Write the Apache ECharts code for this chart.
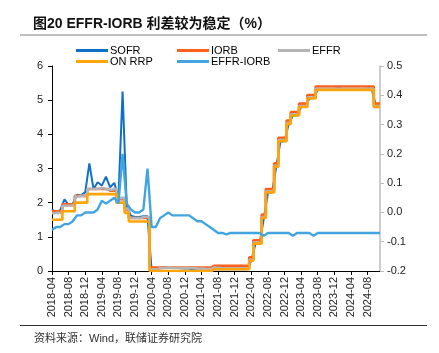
<!DOCTYPE html>
<html>
<head>
<meta charset="utf-8">
<script src="https://cdn.jsdelivr.net/npm/echarts@6/dist/echarts.min.js"></script>
<style>
html,body{margin:0;padding:0;background:#fff;}
#chart{width:439px;height:353px;}
</style>
</head>
<body>
<div id="chart"></div>
<script>
// Monthly categories (value on/around the 1st of each month)
var months = [
'2018-04','2018-05','2018-06','2018-07','2018-08','2018-09','2018-10','2018-11','2018-12',
'2019-01','2019-02','2019-03','2019-04','2019-05','2019-06','2019-07','2019-08','2019-09','2019-10','2019-11','2019-12',
'2020-01','2020-02','2020-03','2020-04','2020-05','2020-06','2020-07','2020-08','2020-09','2020-10','2020-11','2020-12',
'2021-01','2021-02','2021-03','2021-04','2021-05','2021-06','2021-07','2021-08','2021-09','2021-10','2021-11','2021-12',
'2022-01','2022-02','2022-03','2022-04','2022-05','2022-06','2022-07','2022-08','2022-09','2022-10','2022-11','2022-12',
'2023-01','2023-02','2023-03','2023-04','2023-05','2023-06','2023-07','2023-08','2023-09','2023-10','2023-11','2023-12',
'2024-01','2024-02','2024-03','2024-04','2024-05','2024-06','2024-07','2024-08','2024-09','2024-10','2024-11'
];

var sofr = [
1.80,1.72,1.78,2.10,1.93,1.96,2.23,2.22,2.30,
3.15,2.40,2.60,2.50,2.76,2.45,2.58,2.15,5.25,1.90,1.62,1.58,
1.58,1.60,1.60,0.01,0.05,0.08,0.10,0.09,0.09,0.09,0.08,0.07,
0.07,0.04,0.01,0.01,0.01,0.01,0.05,0.05,0.05,0.05,0.05,0.05,
0.05,0.05,0.05,0.30,0.79,0.80,1.53,2.28,2.30,3.04,3.78,3.80,
4.30,4.55,4.55,4.80,4.81,5.05,5.06,5.31,5.31,5.31,5.32,5.31,
5.40,5.31,5.31,5.33,5.32,5.33,5.33,5.34,5.33,4.84,4.86
];

var iorb = [
1.75,1.75,1.75,1.95,1.95,1.95,2.20,2.20,2.20,
2.40,2.40,2.40,2.40,2.40,2.35,2.35,2.10,2.10,1.80,1.55,1.55,
1.55,1.55,1.55,0.10,0.10,0.10,0.10,0.10,0.10,0.10,0.10,0.10,
0.10,0.10,0.10,0.10,0.10,0.10,0.15,0.15,0.15,0.15,0.15,0.15,
0.15,0.15,0.15,0.40,0.90,0.90,1.65,2.40,2.40,3.15,3.90,3.90,
4.40,4.65,4.65,4.90,4.90,5.15,5.15,5.40,5.40,5.40,5.40,5.40,
5.40,5.40,5.40,5.40,5.40,5.40,5.40,5.40,5.40,4.90,4.90
];

var effr = [
1.69,1.70,1.70,1.91,1.91,1.92,2.18,2.20,2.20,
2.40,2.40,2.41,2.43,2.39,2.38,2.40,2.13,2.14,1.83,1.55,1.55,
1.55,1.58,1.58,0.05,0.05,0.08,0.09,0.10,0.09,0.09,0.09,0.09,
0.09,0.08,0.07,0.07,0.06,0.06,0.10,0.09,0.08,0.08,0.08,0.08,
0.08,0.08,0.08,0.33,0.83,0.83,1.58,2.33,2.33,3.08,3.83,3.83,
4.33,4.58,4.58,4.83,4.83,5.08,5.08,5.33,5.33,5.33,5.33,5.33,
5.33,5.33,5.33,5.33,5.33,5.33,5.33,5.33,5.33,4.83,4.83
];

var onrrp = [
1.50,1.50,1.50,1.75,1.75,1.75,2.00,2.00,2.00,
2.25,2.25,2.25,2.25,2.25,2.25,2.25,2.00,2.00,1.70,1.45,1.45,
1.45,1.45,1.45,0.00,0.00,0.00,0.00,0.00,0.00,0.00,0.00,0.00,
0.00,0.00,0.00,0.00,0.00,0.00,0.05,0.05,0.05,0.05,0.05,0.05,
0.05,0.05,0.05,0.30,0.80,0.80,1.55,2.30,2.30,3.05,3.80,3.80,
4.30,4.55,4.55,4.80,4.80,5.05,5.05,5.30,5.30,5.30,5.30,5.30,
5.30,5.30,5.30,5.30,5.30,5.30,5.30,5.30,5.30,4.80,4.80
];

// EFFR-IORB spread, right axis
var spread = [
-0.06,-0.05,-0.05,-0.04,-0.04,-0.03,-0.01,-0.01,0.00,
0.00,0.00,0.01,0.04,0.03,0.04,0.05,0.03,0.20,0.03,0.01,0.00,
0.00,0.01,0.15,-0.05,-0.05,-0.02,-0.01,0.00,-0.01,-0.01,-0.01,-0.01,
-0.01,-0.02,-0.03,-0.03,-0.04,-0.05,-0.06,-0.07,-0.07,-0.075,-0.07,-0.07,
-0.07,-0.07,-0.07,-0.07,-0.07,-0.07,-0.08,-0.07,-0.07,-0.07,-0.07,-0.07,
-0.07,-0.08,-0.07,-0.07,-0.07,-0.07,-0.08,-0.07,-0.07,-0.07,-0.07,-0.07,
-0.07,-0.07,-0.07,-0.07,-0.07,-0.07,-0.07,-0.07,-0.07,-0.07,-0.07
];

var leftTicks = {min:0, max:6, interval:1};
var rightTicks = {min:-0.2, max:0.5, interval:0.1};

var FONT = '"Liberation Sans", Arial, "Noto Sans CJK SC", sans-serif';
var CJK = '"Liberation Sans", "Noto Sans CJK SC", sans-serif';

var chart = echarts.init(document.getElementById('chart'), null, {renderer:'canvas'});

function legendBlock(names, left){
  return {
    data: names, orient:'vertical', left:left, top:45, padding:0, itemGap:0,
    icon:'rect', itemWidth:32, itemHeight:3,
    textStyle:{fontSize:11, fontFamily:FONT, color:'#000', lineHeight:11, padding:[0,0,0,-3]},
    selectedMode:false
  };
}

var option = {
  animation:false,
  backgroundColor:'#fff',
  title:[
    {text:'图20 EFFR-IORB 利差较为稳定（%）', left:28, top:12,
     textStyle:{fontSize:14, fontWeight:'bold', fontFamily:CJK, color:'#111'}},
    {text:'资料来源：Wind，联储证券研究院', left:29, top:328,
     textStyle:{fontSize:11, fontWeight:'normal', fontFamily:CJK, color:'#333'}}
  ],
  graphic:[
    {type:'line', shape:{x1:20,y1:35,x2:427,y2:35}, style:{stroke:'#808080', lineWidth:1.2}},
    {type:'line', shape:{x1:20,y1:325.5,x2:427,y2:325.5}, style:{stroke:'#333', lineWidth:1}}
  ],
  legend:[
    legendBlock(['SOFR','ON RRP'], 76),
    legendBlock(['IORB','EFFR-IORB'], 177),
    legendBlock(['EFFR'], 278)
  ],
  grid:{left:52, right:59, top:66, bottom:82},
  xAxis:{
    type:'category', data:months, boundaryGap:false,
    axisLine:{lineStyle:{color:'#000', width:1}},
    axisTick:{show:true, interval:3, length:4, lineStyle:{color:'#000'}},
    axisLabel:{interval:3, rotate:90, fontSize:11, fontFamily:FONT, color:'#222', margin:6},
    splitLine:{show:false}
  },
  yAxis:[
    {type:'value', min:leftTicks.min, max:leftTicks.max, interval:leftTicks.interval,
     axisLine:{show:true, lineStyle:{color:'#000', width:1}},
     axisTick:{show:true, length:4, lineStyle:{color:'#000'}},
     axisLabel:{fontSize:11, fontFamily:FONT, color:'#222', margin:9},
     splitLine:{show:false}},
    {type:'value', position:'right', min:rightTicks.min, max:rightTicks.max, interval:rightTicks.interval,
     axisLine:{show:true, lineStyle:{color:'#bdbdbd', width:1.5}},
     axisTick:{show:true, length:4, lineStyle:{color:'#bdbdbd'}},
     axisLabel:{fontSize:11, fontFamily:FONT, color:'#222', margin:7,
       formatter:function(v){return v.toFixed(1);}},
     splitLine:{show:false}}
  ],
  series:[
    {name:'SOFR', type:'line', data:sofr, symbol:'none', yAxisIndex:0,
     lineStyle:{color:'#1070c8', width:2}, itemStyle:{color:'#1070c8'}},
    {name:'IORB', type:'line', data:iorb, symbol:'none', step:'middle', yAxisIndex:0,
     lineStyle:{color:'#ff5f1a', width:2.6}, itemStyle:{color:'#ff5f1a'}},
    {name:'EFFR', type:'line', data:effr, symbol:'none', step:'middle', yAxisIndex:0,
     lineStyle:{color:'#b4b4b4', width:2.6}, itemStyle:{color:'#b4b4b4'}},
    {name:'ON RRP', type:'line', data:onrrp, symbol:'none', step:'middle', yAxisIndex:0,
     lineStyle:{color:'#ffa50a', width:2.6}, itemStyle:{color:'#ffa50a'}},
    {name:'EFFR-IORB', type:'line', data:spread, symbol:'none', yAxisIndex:1,
     lineStyle:{color:'#42a5e0', width:2.4}, itemStyle:{color:'#42a5e0'}}
  ]
};
chart.setOption(option);
</script>
</body>
</html>
